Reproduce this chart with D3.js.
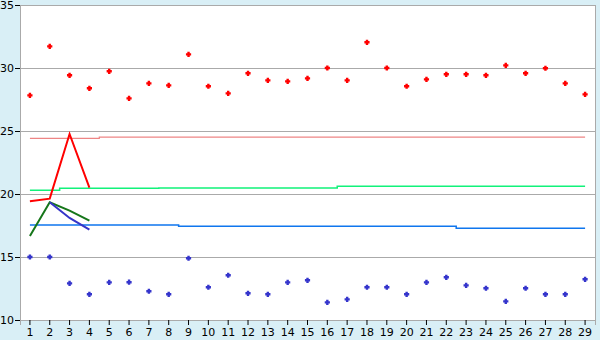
<!DOCTYPE html>
<html>
<head>
<meta charset="utf-8">
<script src="https://cdn.jsdelivr.net/npm/d3@7"></script>
<style>
  body { margin: 0; background: #d9eff6; }
  svg { display: block; }
  text { font-family: "DejaVu Sans", sans-serif; font-size: 11px; fill: #000; }
</style>
</head>
<body>
<div id="chart"></div>
<script>
var categories = d3.range(1, 30);

var redPoints = [27.83, 31.72, 29.42, 28.39, 29.74, 27.59, 28.78, 28.62, 31.08, 28.55,
  27.99, 29.58, 29.02, 28.94, 29.18, 30.0, 29.02, 32.04, 30.0, 28.55,
  29.1, 29.5, 29.5, 29.42, 30.21, 29.58, 29.98, 28.78, 27.91];
var bluePoints = [15.0, 15.0, 12.91, 12.04, 12.99, 13.0, 12.28, 12.04, 14.9, 12.6,
  13.55, 12.12, 12.04, 12.99, 13.15, 11.4, 11.64, 12.6, 12.6, 12.04,
  12.99, 13.39, 12.75, 12.52, 11.48, 12.52, 12.04, 12.04, 13.23];

var redLine = [19.42, 19.63, 24.76, 20.5];
var greenLine = [16.67, 19.34, 18.68, 17.88];
var blueLine = [null, 19.34, 18.1, 17.17];

var pinkLevel = [24.42, 24.42, 24.42, 24.42, 24.52, 24.52, 24.52, 24.52, 24.52, 24.52,
  24.52, 24.52, 24.52, 24.52, 24.52, 24.52, 24.52, 24.52, 24.52, 24.52,
  24.52, 24.52, 24.52, 24.52, 24.52, 24.52, 24.52, 24.52, 24.52];
var greenLevel = [20.29, 20.29, 20.45, 20.45, 20.45, 20.45, 20.45, 20.47, 20.47, 20.47,
  20.47, 20.47, 20.47, 20.47, 20.47, 20.47, 20.61, 20.61, 20.61, 20.61,
  20.61, 20.61, 20.61, 20.61, 20.61, 20.61, 20.61, 20.61, 20.61];
var blueLevel = [17.53, 17.53, 17.53, 17.53, 17.53, 17.53, 17.53, 17.53, 17.44, 17.44,
  17.44, 17.44, 17.44, 17.44, 17.44, 17.44, 17.44, 17.44, 17.44, 17.44,
  17.44, 17.44, 17.28, 17.28, 17.28, 17.28, 17.28, 17.28, 17.28];

var yTicks = [10, 15, 20, 25, 30, 35];

var width = 600, height = 340;
var margin = {top: 5, right: 5, bottom: 20, left: 20};

var svg = d3.select('#chart').append('svg')
  .attr('width', width)
  .attr('height', height);

var x = d3.scaleBand()
  .domain(categories)
  .range([margin.left, width - margin.right])
  .padding(0);
var y = d3.scaleLinear()
  .domain([10, 35])
  .range([height - margin.bottom, margin.top]);

function cx(d) { return x(d) + x.bandwidth() / 2; }

// plot background
svg.append('rect')
  .attr('x', margin.left)
  .attr('y', margin.top)
  .attr('width', width - margin.left - margin.right)
  .attr('height', height - margin.top - margin.bottom)
  .attr('fill', '#fff')
  .attr('stroke', '#aaa')
  .attr('shape-rendering', 'crispEdges');

// grid
svg.append('g').selectAll('line')
  .data(yTicks)
  .enter().append('line')
  .attr('x1', margin.left)
  .attr('x2', width - margin.right)
  .attr('y1', function(d) { return Math.round(y(d)) + 0.5; })
  .attr('y2', function(d) { return Math.round(y(d)) + 0.5; })
  .attr('stroke', '#aaa');

// axes
var xAxis = svg.append('g')
  .attr('transform', 'translate(0,' + (height - margin.bottom) + ')')
  .call(d3.axisBottom(x).tickSize(5).tickPadding(3));
var yAxis = svg.append('g')
  .attr('transform', 'translate(' + margin.left + ',0)')
  .call(d3.axisLeft(y).tickValues(yTicks).tickSize(5).tickPadding(1));
[xAxis, yAxis].forEach(function(a) {
  a.select('.domain').attr('stroke', '#aaa');
  a.selectAll('.tick line').attr('stroke', '#000');
  a.selectAll('text').style('font-size', '11px').attr('fill', '#000');
});

function series(values) {
  return values.map(function(v, i) { return {c: categories[i], v: v}; });
}

var stepLine = d3.line()
  .defined(function(d) { return d.v != null; })
  .x(function(d) { return cx(d.c); })
  .y(function(d) { return y(d.v); })
  .curve(d3.curveStep);

var plainLine = d3.line()
  .defined(function(d) { return d.v != null; })
  .x(function(d) { return cx(d.c); })
  .y(function(d) { return y(d.v); });

var levels = [
  {data: pinkLevel, color: '#ee8585', w: 1.2},
  {data: greenLevel, color: '#11f27a', w: 1.5},
  {data: blueLevel, color: '#0f76ee', w: 1.5}
];
levels.forEach(function(s) {
  svg.append('path')
    .datum(series(s.data))
    .attr('d', stepLine)
    .attr('fill', 'none')
    .attr('stroke', s.color)
    .attr('stroke-width', s.w);
});

var lines = [
  {data: redLine, color: '#ff0000'},
  {data: greenLine, color: '#16761a'},
  {data: blueLine, color: '#3535c8'}
];
lines.forEach(function(s) {
  svg.append('path')
    .datum(series(s.data))
    .attr('d', plainLine)
    .attr('fill', 'none')
    .attr('stroke', s.color)
    .attr('stroke-width', 2);
});

// chunky plus marker, 5px across
var chunkyPlus = {
  draw: function(ctx) {
    var a = 1.2, b = 2.6;
    ctx.moveTo(-a, -b); ctx.lineTo(a, -b); ctx.lineTo(a, -a); ctx.lineTo(b, -a);
    ctx.lineTo(b, a); ctx.lineTo(a, a); ctx.lineTo(a, b); ctx.lineTo(-a, b);
    ctx.lineTo(-a, a); ctx.lineTo(-b, a); ctx.lineTo(-b, -a); ctx.lineTo(-a, -a);
    ctx.closePath();
  }
};
var marker = d3.symbol().type(chunkyPlus);
[{data: redPoints, color: '#ff0000'}, {data: bluePoints, color: '#3535cc'}].forEach(function(s) {
  svg.append('g').selectAll('path')
    .data(series(s.data))
    .enter().append('path')
    .attr('d', marker)
    .attr('transform', function(d) { return 'translate(' + cx(d.c) + ',' + y(d.v) + ')'; })
    .attr('fill', s.color);
});
</script>
</body>
</html>
